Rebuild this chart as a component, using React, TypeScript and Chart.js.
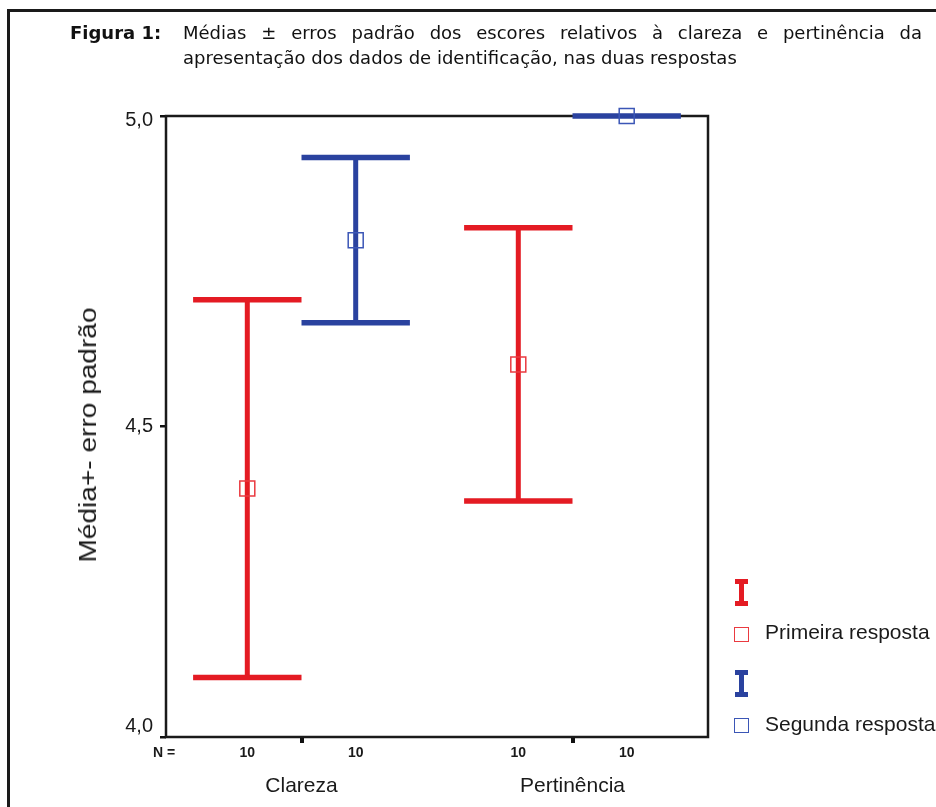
import React, { useEffect, useRef } from 'react';
import { Chart, registerables } from 'chart.js';

Chart.register(...registerables);

// ---- data ----
const categories = ['Clareza', 'Pertinência'];
const seriesNames = ['Primeira resposta', 'Segunda resposta'];
const primeiraMean = [4.4, 4.6];
const primeiraSE = [0.304, 0.22];
const segundaMean = [4.8, 5.0];
const segundaSE = [0.133, 0.0];
const primeiraN = [10, 10];
const segundaN = [10, 10];
const yTicks = [4.0, 4.5, 5.0];
const nLabel = 'N =';
const yTitle = 'Média+- erro padrão';
const titleBold = 'Figura 1:';
const titleLine1 = 'Médias ± erros padrão dos escores relativos à clareza e pertinência da';
const titleLine2 = 'apresentação dos dados de identificação, nas duas respostas';

// ---- styles ----
const RED = '#e41b23';
const BLUE = '#2a429f';
const RED_MARK = '#ea3a40';
const BLUE_MARK = '#3b56b6';
const INK = '#1a1a1a';
const FONT = '"Liberation Sans", Arial, sans-serif';
const GROUP_OFFSET = 0.2;
const CAP_HALF = 0.2;

const series = [
  { name: seriesNames[0], mean: primeiraMean, se: primeiraSE, n: primeiraN, color: RED, mark: RED_MARK, offset: -GROUP_OFFSET },
  { name: seriesNames[1], mean: segundaMean, se: segundaSE, n: segundaN, color: BLUE, mark: BLUE_MARK, offset: GROUP_OFFSET },
];

const fmt = (v: number) => v.toFixed(1).replace('.', ',');

const errorBarPlugin = {
  id: 'errorBars',
  beforeDatasetsDraw(chart: any) {
    const { ctx, chartArea: a, scales } = chart;
    const x = scales.x;
    const y = scales.y;
    ctx.save();
    // frame
    ctx.strokeStyle = INK;
    ctx.lineWidth = 2.5;
    ctx.strokeRect(a.left, a.top, a.right - a.left, a.bottom - a.top);
    // error bars
    ctx.lineCap = 'butt';
    series.forEach((s) => {
      s.mean.forEach((m, i) => {
        const cx = i + 1 + s.offset;
        const px = x.getPixelForValue(cx);
        const xl = x.getPixelForValue(cx - CAP_HALF);
        const xr = x.getPixelForValue(cx + CAP_HALF);
        const yt = y.getPixelForValue(m + s.se[i]);
        const yb = y.getPixelForValue(m - s.se[i]);
        ctx.strokeStyle = s.color;
        ctx.lineWidth = 5;
        ctx.beginPath();
        ctx.moveTo(px, yt);
        ctx.lineTo(px, yb);
        ctx.stroke();
        ctx.lineWidth = 5.5;
        ctx.beginPath();
        ctx.moveTo(xl, yt);
        ctx.lineTo(xr, yt);
        ctx.moveTo(xl, yb);
        ctx.lineTo(xr, yb);
        ctx.stroke();
      });
    });
    ctx.restore();
  },
  afterDraw(chart: any) {
    const { ctx, chartArea: a, scales } = chart;
    const x = scales.x;
    const y = scales.y;
    ctx.save();
    // y tick labels (end labels kept inside the axis span)
    ctx.fillStyle = INK;
    ctx.font = `20px ${FONT}`;
    ctx.textAlign = 'right';
    ctx.textBaseline = 'middle';
    yTicks.forEach((v) => {
      let py = y.getPixelForValue(v);
      py = Math.min(Math.max(py, a.top + 4), a.bottom - 11);
      ctx.fillText(fmt(v), a.left - 13, py);
    });
    // N labels
    ctx.font = `bold 14px ${FONT}`;
    ctx.textAlign = 'center';
    const ny = a.bottom + 16;
    ctx.fillText(nLabel, a.left - 2, ny);
    series.forEach((s) => {
      s.n.forEach((n, i) => {
        ctx.fillText(String(n), x.getPixelForValue(i + 1 + s.offset), ny);
      });
    });
    ctx.restore();
  },
};

function IBar({ color, left, top }: { color: string; left: number; top: number }) {
  return (
    <div style={{ position: 'absolute', left, top, width: 13, height: 27 }}>
      <div style={{ position: 'absolute', left: 0, top: 0, width: 13, height: 5, background: color }} />
      <div style={{ position: 'absolute', left: 4, top: 0, width: 5, height: 27, background: color }} />
      <div style={{ position: 'absolute', left: 0, top: 22, width: 13, height: 5, background: color }} />
    </div>
  );
}

function Square({ color, left, top }: { color: string; left: number; top: number }) {
  return (
    <div
      style={{
        position: 'absolute',
        left,
        top,
        width: 13,
        height: 13,
        border: `1.5px solid ${color}`,
      }}
    />
  );
}

export default function App() {
  const canvasRef = useRef<HTMLCanvasElement | null>(null);

  useEffect(() => {
    const canvas = canvasRef.current;
    if (!canvas) return;
    const chart = new Chart(canvas, {
      type: 'scatter',
      data: {
        datasets: series.map((s) => ({
          label: s.name,
          data: s.mean.map((m, i) => ({ x: i + 1 + s.offset, y: m })),
          pointStyle: 'rect',
          pointRadius: 10.6,
          borderWidth: 1.5,
          borderColor: s.mark,
          backgroundColor: 'rgba(0,0,0,0)',
          showLine: false,
          clip: false,
        })),
      },
      options: {
        responsive: false,
        animation: false,
        events: [],
        devicePixelRatio: 1,
        layout: { padding: { top: 116, right: 228, left: 0, bottom: 0 } },
        plugins: {
          legend: { display: false },
          tooltip: { enabled: false },
          title: { display: false },
        },
        scales: {
          x: {
            type: 'linear',
            position: 'bottom',
            min: 0.5,
            max: 2.5,
            afterBuildTicks: (axis: any) => {
              axis.ticks = categories.map((_, i) => ({ value: i + 1 }));
            },
            afterFit: (scale: any) => {
              scale.height = 70;
            },
            ticks: {
              callback: (v: any) => categories[Math.round(Number(v)) - 1] ?? '',
              font: { family: FONT, size: 21 },
              color: INK,
              padding: 31,
              maxRotation: 0,
              autoSkip: false,
            },
            grid: { drawOnChartArea: false, tickLength: 6, lineWidth: 4, color: '#111' },
            border: { display: false },
          },
          y: {
            type: 'linear',
            min: 4,
            max: 5,
            afterBuildTicks: (axis: any) => {
              axis.ticks = yTicks.map((v) => ({ value: v }));
            },
            afterFit: (scale: any) => {
              scale.width = 166;
            },
            ticks: { display: false },
            grid: { drawOnChartArea: false, tickLength: 6, lineWidth: 2.5, color: '#111' },
            border: { display: false },
          },
        },
      },
      plugins: [errorBarPlugin],
    } as any);
    return () => chart.destroy();
  }, []);

  return (
    <div style={{ position: 'fixed', left: 0, top: 0, width: 936, height: 807, overflow: 'hidden', background: '#fff' }}>
      <div
        style={{
          position: 'absolute',
          left: 7,
          top: 9,
          width: 1000,
          height: 1000,
          borderTop: `3px solid ${INK}`,
          borderLeft: `3px solid ${INK}`,
        }}
      />
      <canvas ref={canvasRef} width={936} height={807} style={{ position: 'absolute', left: 0, top: 0, display: 'block' }} />
      <div
        style={{
          position: 'absolute',
          left: 70,
          top: 20,
          width: 852,
          fontFamily: '"DejaVu Sans", Verdana, sans-serif',
          fontSize: 18,
          lineHeight: '25px',
          color: '#111',
          display: 'flex',
        }}
      >
        <div style={{ width: 113, fontWeight: 'bold', whiteSpace: 'nowrap' }}>{titleBold}</div>
        <div style={{ flex: 1 }}>
          <div style={{ textAlign: 'justify', textAlignLast: 'justify' as any }}>{titleLine1}</div>
          <div style={{ whiteSpace: 'nowrap' }}>{titleLine2}</div>
        </div>
      </div>
      <div
        style={{
          position: 'absolute',
          left: 88,
          top: 435,
          transform: 'translate(-50%, -50%) rotate(-90deg) scaleX(1.22)',
          fontFamily: FONT,
          fontSize: 23,
          lineHeight: '26px',
          whiteSpace: 'nowrap',
          color: INK,
        }}
      >
        {yTitle}
      </div>
      <IBar color={RED} left={735} top={579} />
      <Square color={RED_MARK} left={734} top={627} />
      <div style={{ position: 'absolute', left: 765, top: 620, fontFamily: FONT, fontSize: 21, lineHeight: '24px', whiteSpace: 'nowrap', color: INK }}>
        {seriesNames[0]}
      </div>
      <IBar color={BLUE} left={735} top={670} />
      <Square color={BLUE_MARK} left={734} top={718} />
      <div style={{ position: 'absolute', left: 765, top: 712, fontFamily: FONT, fontSize: 21, lineHeight: '24px', whiteSpace: 'nowrap', color: INK }}>
        {seriesNames[1]}
      </div>
    </div>
  );
}
